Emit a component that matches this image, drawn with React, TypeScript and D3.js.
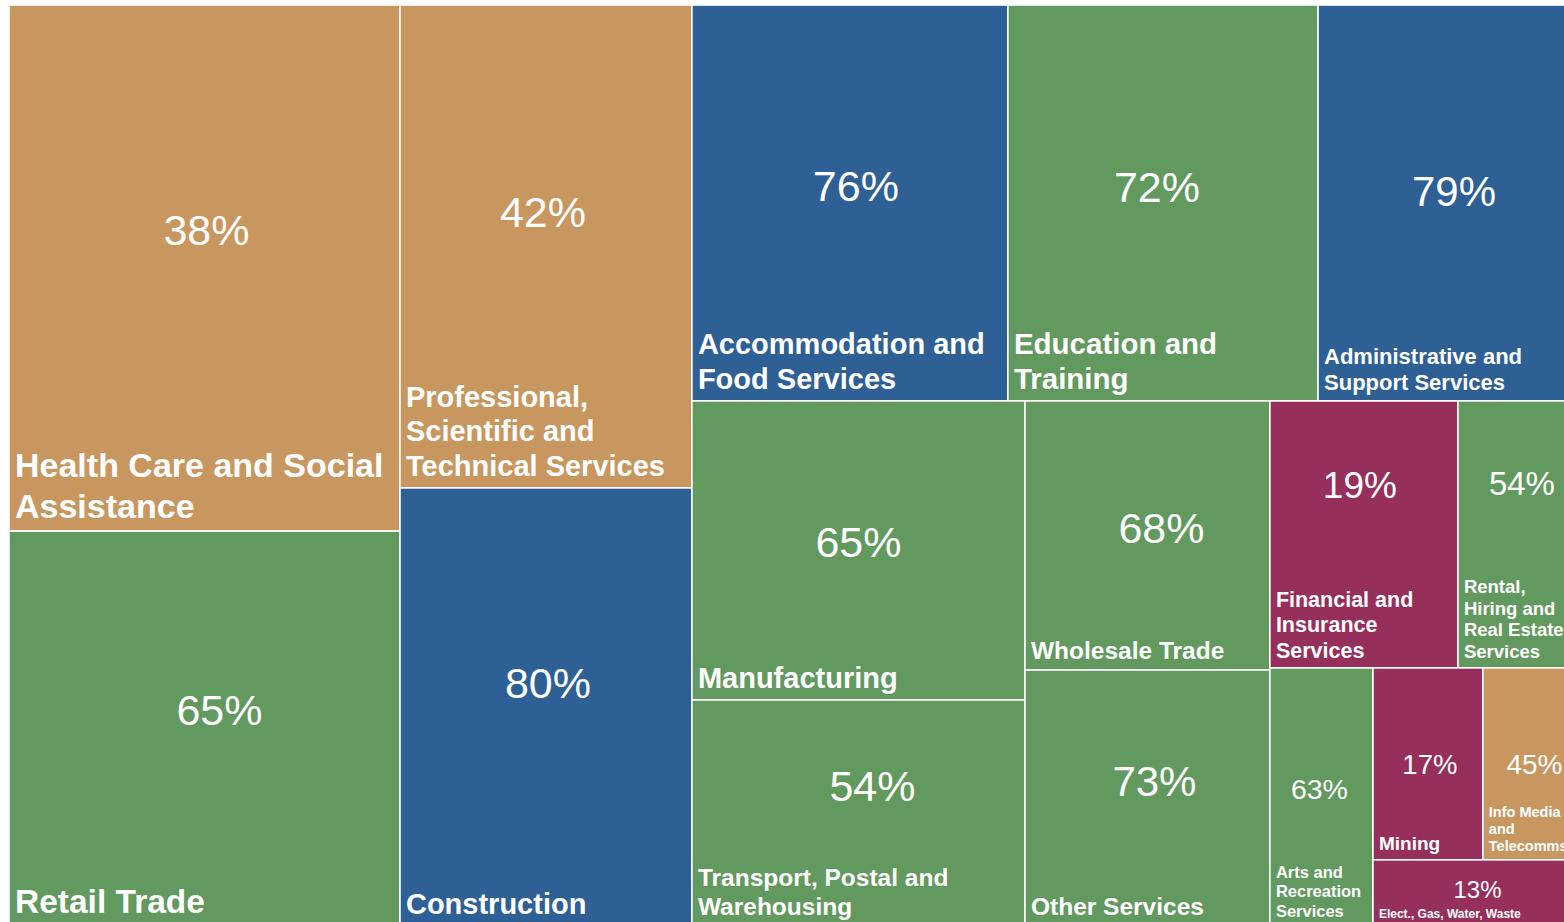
import React, { useEffect, useRef } from "react";
import * as d3 from "d3";

// industries, in treemap order
const industries = [
  "Health Care and Social Assistance",
  "Retail Trade",
  "Professional, Scientific and Technical Services",
  "Construction",
  "Accommodation and Food Services",
  "Education and Training",
  "Administrative and Support Services",
  "Manufacturing",
  "Transport, Postal and Warehousing",
  "Wholesale Trade",
  "Other Services",
  "Financial and Insurance Services",
  "Rental, Hiring and Real Estate Services",
  "Arts and Recreation Services",
  "Mining",
  "Info Media and Telecomms",
  "Elect., Gas, Water, Waste",
];

// size of each box
const sizes = [2057, 1544, 1410, 1279, 1251, 1228, 1061, 996, 753, 659, 627, 502, 342, 266, 211, 198, 141];

// percentage shown in each box
const percents = [38, 65, 42, 80, 76, 72, 79, 65, 54, 68, 73, 19, 54, 63, 17, 45, 13];

// colour group of each box
const groups = ["A", "C", "A", "B", "B", "C", "B", "C", "C", "C", "C", "D", "C", "C", "D", "A", "D"];

// wrapped label lines
const labelLines = [
  ["Health Care and Social", "Assistance"],
  ["Retail Trade"],
  ["Professional,", "Scientific and", "Technical Services"],
  ["Construction"],
  ["Accommodation and", "Food Services"],
  ["Education and", "Training"],
  ["Administrative and", "Support Services"],
  ["Manufacturing"],
  ["Transport, Postal and", "Warehousing"],
  ["Wholesale Trade"],
  ["Other Services"],
  ["Financial and", "Insurance", "Services"],
  ["Rental,", "Hiring and", "Real Estate", "Services"],
  ["Arts and", "Recreation", "Services"],
  ["Mining"],
  ["Info Media", "and", "Telecomms"],
  ["Elect., Gas, Water, Waste"],
];

const colors = { A: "#c8975f", B: "#2e6096", C: "#62995e", D: "#962f5c" };

// text styling per box: name size, percent size, percent baseline (share of height), percent x nudge
const textStyle = [
  { nf: 34, pf: 43, py: 0.456, dx: 2 },
  { nf: 33.5, pf: 43, py: 0.491, dx: 15 },
  { nf: 29, pf: 43, py: 0.46, dx: -3 },
  { nf: 29, pf: 43, py: 0.479, dx: 2 },
  { nf: 29, pf: 43, py: 0.495, dx: 6 },
  { nf: 29.5, pf: 43, py: 0.497, dx: -6 },
  { nf: 22, pf: 42, py: 0.508, dx: 2 },
  { nf: 29, pf: 43, py: 0.522, dx: 0 },
  { nf: 24.5, pf: 43, py: 0.447, dx: 14 },
  { nf: 24.5, pf: 43, py: 0.528, dx: 14 },
  { nf: 24.5, pf: 42, py: 0.492, dx: 7 },
  { nf: 21.5, pf: 37, py: 0.363, dx: -4 },
  { nf: 18.5, pf: 33, py: 0.352, dx: 0 },
  { nf: 16.5, pf: 28.5, py: 0.508, dx: -2 },
  { nf: 19, pf: 27.5, py: 0.552, dx: 2 },
  { nf: 14.5, pf: 28, py: 0.552, dx: 0 },
  { nf: 12, pf: 24, py: 0.576, dx: -2 },
];

const leaf = (i) => ({ i, value: sizes[i] });

// how the boxes are nested: "x" splits across, "y" splits down
const tree = {
  dir: "x",
  children: [
    { dir: "y", children: [leaf(0), leaf(1)] },
    { dir: "y", children: [leaf(2), leaf(3)] },
    {
      dir: "y",
      children: [
        { dir: "x", children: [leaf(4), leaf(5), leaf(6)] },
        {
          dir: "x",
          children: [
            { dir: "y", children: [leaf(7), leaf(8)] },
            { dir: "y", children: [leaf(9), leaf(10)] },
            {
              dir: "y",
              children: [
                { dir: "x", children: [leaf(11), leaf(12)] },
                {
                  dir: "x",
                  children: [
                    leaf(13),
                    {
                      dir: "y",
                      children: [{ dir: "x", children: [leaf(14), leaf(15)] }, leaf(16)],
                    },
                  ],
                },
              ],
            },
          ],
        },
      ],
    },
  ],
};

const FONT = "'Liberation Sans', Arial, sans-serif";

const Treemap = () => {
  const svgRef = useRef(null);

  useEffect(() => {
    const left = 9;
    const top = 5;
    const width = 1577;
    const height = 921;

    const root = d3
      .hierarchy(tree, (d) => d.children)
      .sum((d) => (d.children ? 0 : d.value));

    d3
      .treemap()
      .size([width, height])
      .tile((node, x0, y0, x1, y1) =>
        node.data.dir === "x"
          ? d3.treemapDice(node, x0, y0, x1, y1)
          : d3.treemapSlice(node, x0, y0, x1, y1)
      )(root);

    const svg = d3.select(svgRef.current);
    svg.selectAll("*").remove();

    const g = svg.append("g").attr("transform", `translate(${left},${top})`);

    const cells = g
      .selectAll(".cell")
      .data(root.leaves())
      .enter()
      .append("g")
      .attr("class", "cell");

    cells
      .append("rect")
      .attr("x", (d) => d.x0)
      .attr("y", (d) => d.y0)
      .attr("width", (d) => d.x1 - d.x0)
      .attr("height", (d) => d.y1 - d.y0)
      .style("fill", (d) => colors[groups[d.data.i]])
      .style("stroke", "#ffffff")
      .style("stroke-width", 1.6);

    // percentage
    cells
      .append("text")
      .attr("x", (d) => (d.x0 + d.x1) / 2 + textStyle[d.data.i].dx)
      .attr("y", (d) => d.y0 + (d.y1 - d.y0) * textStyle[d.data.i].py)
      .attr("text-anchor", "middle")
      .style("font-family", FONT)
      .style("font-size", (d) => textStyle[d.data.i].pf + "px")
      .style("fill", "#ffffff")
      .text((d) => percents[d.data.i] + "%");

    // name, anchored to the bottom-left corner
    cells.each(function (d) {
      const st = textStyle[d.data.i];
      const lines = labelLines[d.data.i];
      const lh = st.nf * 1.18;
      const last = d.y1 - (st.nf * 0.25 + 5);
      const t = d3
        .select(this)
        .append("text")
        .style("font-family", FONT)
        .style("font-weight", "bold")
        .style("font-size", st.nf + "px")
        .style("fill", "#ffffff");
      lines.forEach((line, k) => {
        t.append("tspan")
          .attr("x", d.x0 + 6)
          .attr("y", last - (lines.length - 1 - k) * lh)
          .text(line);
      });
    });
  }, []);

  return (
    <div style={{ position: "absolute", left: 0, top: 0, width: 1564, height: 922, overflow: "hidden", background: "#ffffff" }}>
      <svg ref={svgRef} width="1600" height="940" />
    </div>
  );
};

export default function App() {
  return <Treemap />;
}
